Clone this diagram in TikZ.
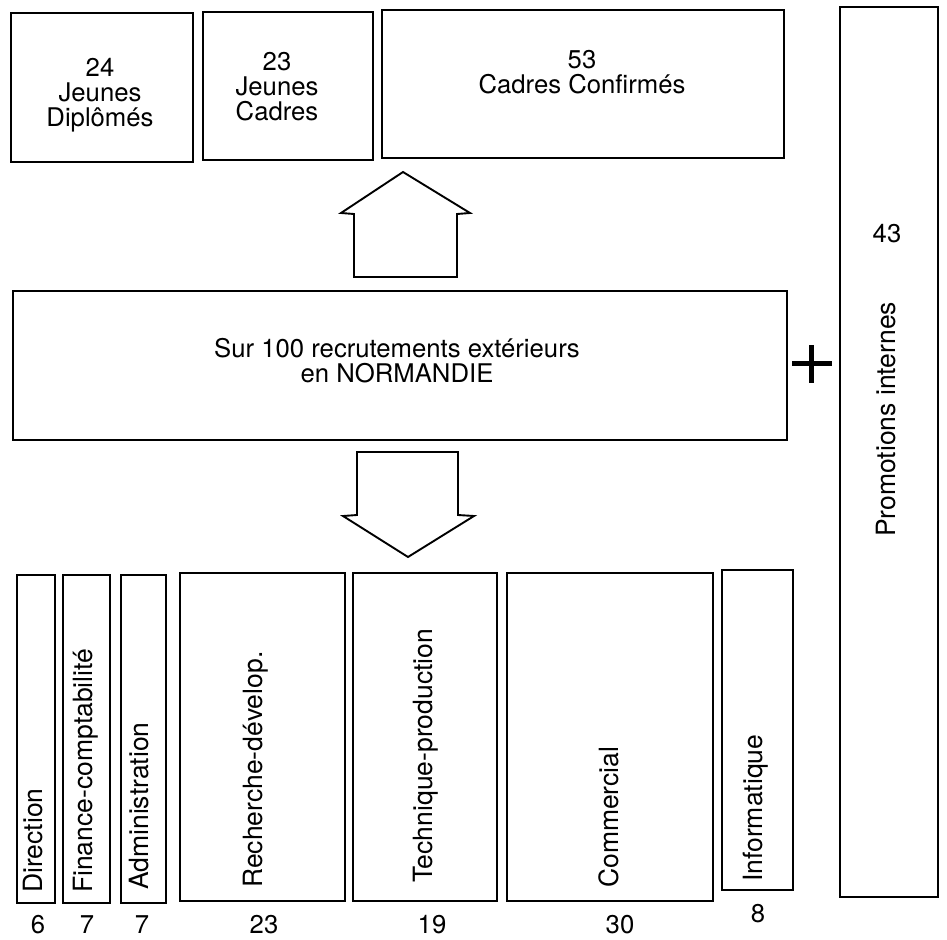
\documentclass[tikz,border=0pt]{standalone}
\usepackage{fontspec}
\setmainfont{TeX Gyre Heros}
\newcommand\hsz{\fontsize{25.7pt}{25pt}\selectfont}
\newcommand\vsz{\fontsize{26.5pt}{27pt}\selectfont}
\newcommand\topstrut{\rule{0pt}{18.7pt}}
\newcommand\botstrut{\rule[-6pt]{0pt}{6pt}}
\begin{document}
\begin{tikzpicture}[x=1pt,y=-1pt,
  box/.style={draw, line width=1.9pt, inner sep=0pt, rectangle},
  lab/.style={inner sep=0pt, align=center, font=\hsz},
  vlab/.style={inner sep=0pt, rotate=90, anchor=west, font=\vsz, text height=0.75em, text depth=0.22em},
  num/.style={inner sep=0pt, anchor=base, font=\hsz},
  blockarrow/.style={draw, line width=1.9pt, line join=miter},
  plus/.style={line width=5pt}]
\useasboundingbox (0,0) rectangle (947,939);
% top boxes
\node[box, minimum width=182pt, minimum height=149pt] (jd) at (102,87.5) {};
\node[box, minimum width=170pt, minimum height=148pt] (jc) at (288,86) {};
\node[box, minimum width=402pt, minimum height=148pt] (cc) at (583,84) {};
\node[lab] (jdt) at (100,95) {\topstrut 24\\Jeunes\\Diplômés\botstrut};
\node[lab] (jct) at (277,89) {\topstrut 23\\Jeunes\\Cadres\botstrut};
\node[lab] (cct) at (582,75) {\topstrut 53\\Cadres Confirmés\botstrut};
% tall box
\node[box, minimum width=98pt, minimum height=890pt] (pi) at (889,452) {};
\node[num] (pin) at (887,242) {43};
\node[vlab] (pit) at (893,537) {Promotions internes};
% middle box
\node[box, minimum width=774pt, minimum height=149pt] (mid) at (400,365.5) {};
\node[lab] (midt) at (397,363) {\topstrut Sur 100 recrutements extérieurs\\en NORMANDIE\botstrut};
% plus sign
\coordinate (pl) at (792,363);
\coordinate (pr) at (832,363);
\coordinate (pt) at (811,345);
\coordinate (pb) at (811,383);
\draw[plus] (pl) -- (pr);
\draw[plus] (pt) -- (pb);
% up arrow
\draw[blockarrow] (354,277) -- (354,214) -- (341,213) -- (403,172) -- (470,213) -- (457,214) -- (457,277) -- cycle;
% down arrow
\draw[blockarrow] (357,452) -- (357,515) -- (343,516) -- (408,557) -- (474,516) -- (458,515) -- (458,452) -- cycle;
% bottom boxes
\node[box, minimum width=38pt, minimum height=328pt] (dir) at (36,739) {};
\node[box, minimum width=47pt, minimum height=328pt] (fin) at (86.5,739) {};
\node[box, minimum width=45pt, minimum height=328pt] (adm) at (143.5,739) {};
\node[box, minimum width=165pt, minimum height=328pt] (rec) at (262.5,737) {};
\node[box, minimum width=144pt, minimum height=328pt] (tec) at (425,737) {};
\node[box, minimum width=206pt, minimum height=328pt] (com) at (610,737) {};
\node[box, minimum width=71pt, minimum height=320pt] (inf) at (757.5,730) {};
\node[vlab] (dirt) at (40,893) {Direction};
\node[vlab] (fint) at (90,893) {Finance-comptabilité};
\node[vlab] (admt) at (146,890) {Administration};
\node[vlab] (rect) at (260,888) {Recherche-dévelop.};
\node[vlab] (tect) at (430,883) {Technique-production};
\node[vlab] (comt) at (616,888) {Commercial};
\node[vlab] (inft) at (760,882) {Informatique};
% numbers
\node[num] (dirn) at (38,933) {6};
\node[num] (finn) at (87,933) {7};
\node[num] (admn) at (142,933) {7};
\node[num] (recn) at (264,933) {23};
\node[num] (tecn) at (432,933) {19};
\node[num] (comn) at (620,933) {30};
\node[num] (infn) at (758,922) {8};
\end{tikzpicture}
\end{document}
